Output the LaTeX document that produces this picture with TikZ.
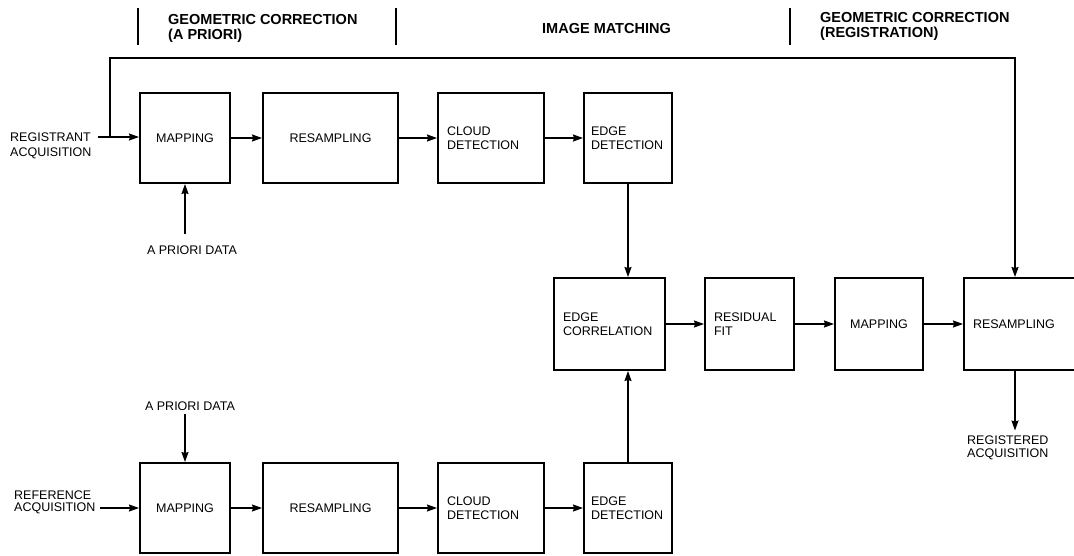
\documentclass[tikz,border=0pt]{standalone}
\usepackage{fontspec}
\setmainfont{Liberation Sans}
\usetikzlibrary{arrows.meta,calc,positioning}
\newcommand{\boxfont}{\fontsize{12.5}{14}\selectfont}
\newcommand{\lblfont}{\fontsize{12.5}{15.5}\selectfont}
\newcommand{\hdrfont}{\fontsize{14.5}{15.5}\selectfont\bfseries}

\begin{document}
\begin{tikzpicture}[x=1pt,y=-1pt,node distance=38pt,font=\boxfont,>={Stealth[length=10pt,width=7pt,inset=1pt]},
      blk/.style={draw,line width=2pt,minimum height=90pt,inner xsep=9pt,inner ysep=0pt,text width=#1,align=left},
      lbl/.style={font=\lblfont,align=left,inner sep=0pt},
      hdr/.style={font=\hdrfont,align=left,inner sep=0pt},
      wire/.style={->,line width=1.4pt}]
      \useasboundingbox (0,0) rectangle (1074,555);
      \foreach \x in {138,396,790} \draw[line width=1.8pt] (\x,8) -- (\x,45);
      \node[hdr,anchor=north west] (hapr) at (168,14) {GEOMETRIC CORRECTION\\(A PRIORI)};
      \node[hdr,anchor=west] (hmat) at (542,29) {IMAGE MATCHING};
      \node[hdr,anchor=north west] (hreg) at (820,12) {GEOMETRIC CORRECTION\\(REGISTRATION)};
      \node[blk=72pt,align=center] (map1) at (185,138) {MAPPING};
      \node[blk=117pt,align=center,right=31pt of map1] (res1) {RESAMPLING};
      \node[blk=88pt,right=of res1] (cld1) {CLOUD\\DETECTION};
      \node[blk=74pt,inner xsep=7pt,right=of cld1] (edg1) {EDGE\\DETECTION};
      \node[blk=72pt,align=center] (map2) at (185,508) {MAPPING};
      \node[blk=117pt,align=center,right=31pt of map2] (res2) {RESAMPLING};
      \node[blk=88pt,right=of res2] (cld2) {CLOUD\\DETECTION};
      \node[blk=74pt,inner xsep=7pt,right=of cld2] (edg2) {EDGE\\DETECTION};
      \node[blk=93pt,minimum height=92pt] (ecor) at (609.5,324) {EDGE\\CORRELATION};
      \node[blk=71pt,minimum height=92pt,right=of ecor] (rfit) {RESIDUAL\\FIT};
      \node[blk=70pt,minimum height=92pt,align=center,right=39pt of rfit] (map3) {MAPPING};
      \node[blk=97pt,minimum height=92pt,right=39pt of map3] (res3) {RESAMPLING};
      \node[lbl,anchor=north west] (regin) at (10,132.5) {REGISTRANT\\ACQUISITION};
      \node[lbl,anchor=north west,font=\fontsize{12.5}{12.5}\selectfont] (refin) at (14,490.5) {REFERENCE\\ACQUISITION};
      \node[lbl] (apr1) at (192,250) {A PRIORI DATA};
      \node[lbl] (apr2) at (190,406) {A PRIORI DATA};
      \node[lbl,anchor=north west,font=\fontsize{12.5}{13}\selectfont] (regout) at (967,435.5) {REGISTERED\\ACQUISITION};
      \coordinate (regend) at (98,137);
      \coordinate (tap) at (110,137);
      \coordinate (refend) at (100,508);
      \coordinate (rail) at (0,58);
      \coordinate (feed) at ($(res3.north)+(-6.5,0)$);
      \draw[wire] (regend) -- (regend -| map1.west);
      \draw[wire] (tap) |- (rail -| feed) -- (feed);
      \draw[wire] (refend) -- (refend -| map2.west);
      \draw[wire] ($(map1.south |- apr1.north)+(0,-11)$) -- (map1.south);
      \draw[wire] ($(map2.north |- apr2.south)+(0,3)$) -- (map2.north);
      \draw[wire] (map1) -- (res1);
      \draw[wire] (res1) -- (cld1);
      \draw[wire] (cld1) -- (edg1);
      \draw[wire] (map2) -- (res2);
      \draw[wire] (res2) -- (cld2);
      \draw[wire] (cld2) -- (edg2);
      \draw[wire] (edg1.south) -- (edg1.south |- ecor.north);
      \draw[wire] (edg2.north) -- (edg2.north |- ecor.south);
      \draw[wire] (ecor) -- (rfit);
      \draw[wire] (rfit) -- (map3);
      \draw[wire] (map3) -- (res3);
      \draw[wire] (feed |- res3.south) -- ($(feed |- regout.north)+(0,-5)$);
    \end{tikzpicture}
\end{document}
